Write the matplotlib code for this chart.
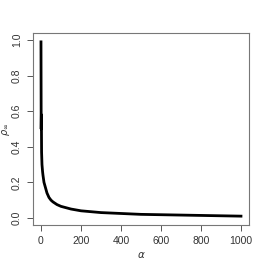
import matplotlib
matplotlib.use("Agg")
import matplotlib.pyplot as plt

# values
alpha = [0, 1, 2, 3, 5, 8, 10, 15, 20, 30, 40, 50, 60, 80, 100, 150, 200,
         300, 400, 500, 600, 700, 800, 900, 1000]
rho = [0.99, 0.50, 0.58, 0.37, 0.30, 0.26, 0.24, 0.20, 0.18, 0.14, 0.115,
       0.10, 0.09, 0.075, 0.065, 0.05, 0.04, 0.03, 0.025, 0.02, 0.018,
       0.016, 0.014, 0.012, 0.01]
xticks = [0, 200, 400, 600, 800, 1000]
yticks = [0.0, 0.2, 0.4, 0.6, 0.8, 1.0]

plt.rcParams.update({"font.family": ["Liberation Sans", "DejaVu Sans"],
                     "font.size": 7.5})

fig = plt.figure(figsize=(2.66, 2.66), dpi=100)
ax = fig.add_axes([0.124, 0.154, 0.812, 0.722])
ax.plot(alpha, rho, color="black", lw=2.0, solid_joinstyle="round")
ax.set_xlim(-40, 1040)
ax.set_ylim(-0.04, 1.04)
ax.set_xticks(xticks)
ax.set_yticks(yticks)
ax.set_yticklabels([f"{v:.1f}" for v in yticks], rotation=90, va="center")
for s in ax.spines.values():
    s.set_color("#777777")
    s.set_linewidth(0.8)
ax.tick_params(length=4, width=0.7, color="#555555", labelcolor="#333333", pad=4)
ax.set_xlabel(r"$\alpha$", color="#333333")
ax.set_ylabel(r"$\rho_\infty$", color="#333333", fontsize=7)
ax.xaxis.set_label_coords(0.5, -0.156)
ax.yaxis.set_label_coords(-0.125, 0.5)
ax.xaxis.label.set_va("center")
ax.yaxis.label.set_va("center")
fig.savefig("out.png", dpi=100)
